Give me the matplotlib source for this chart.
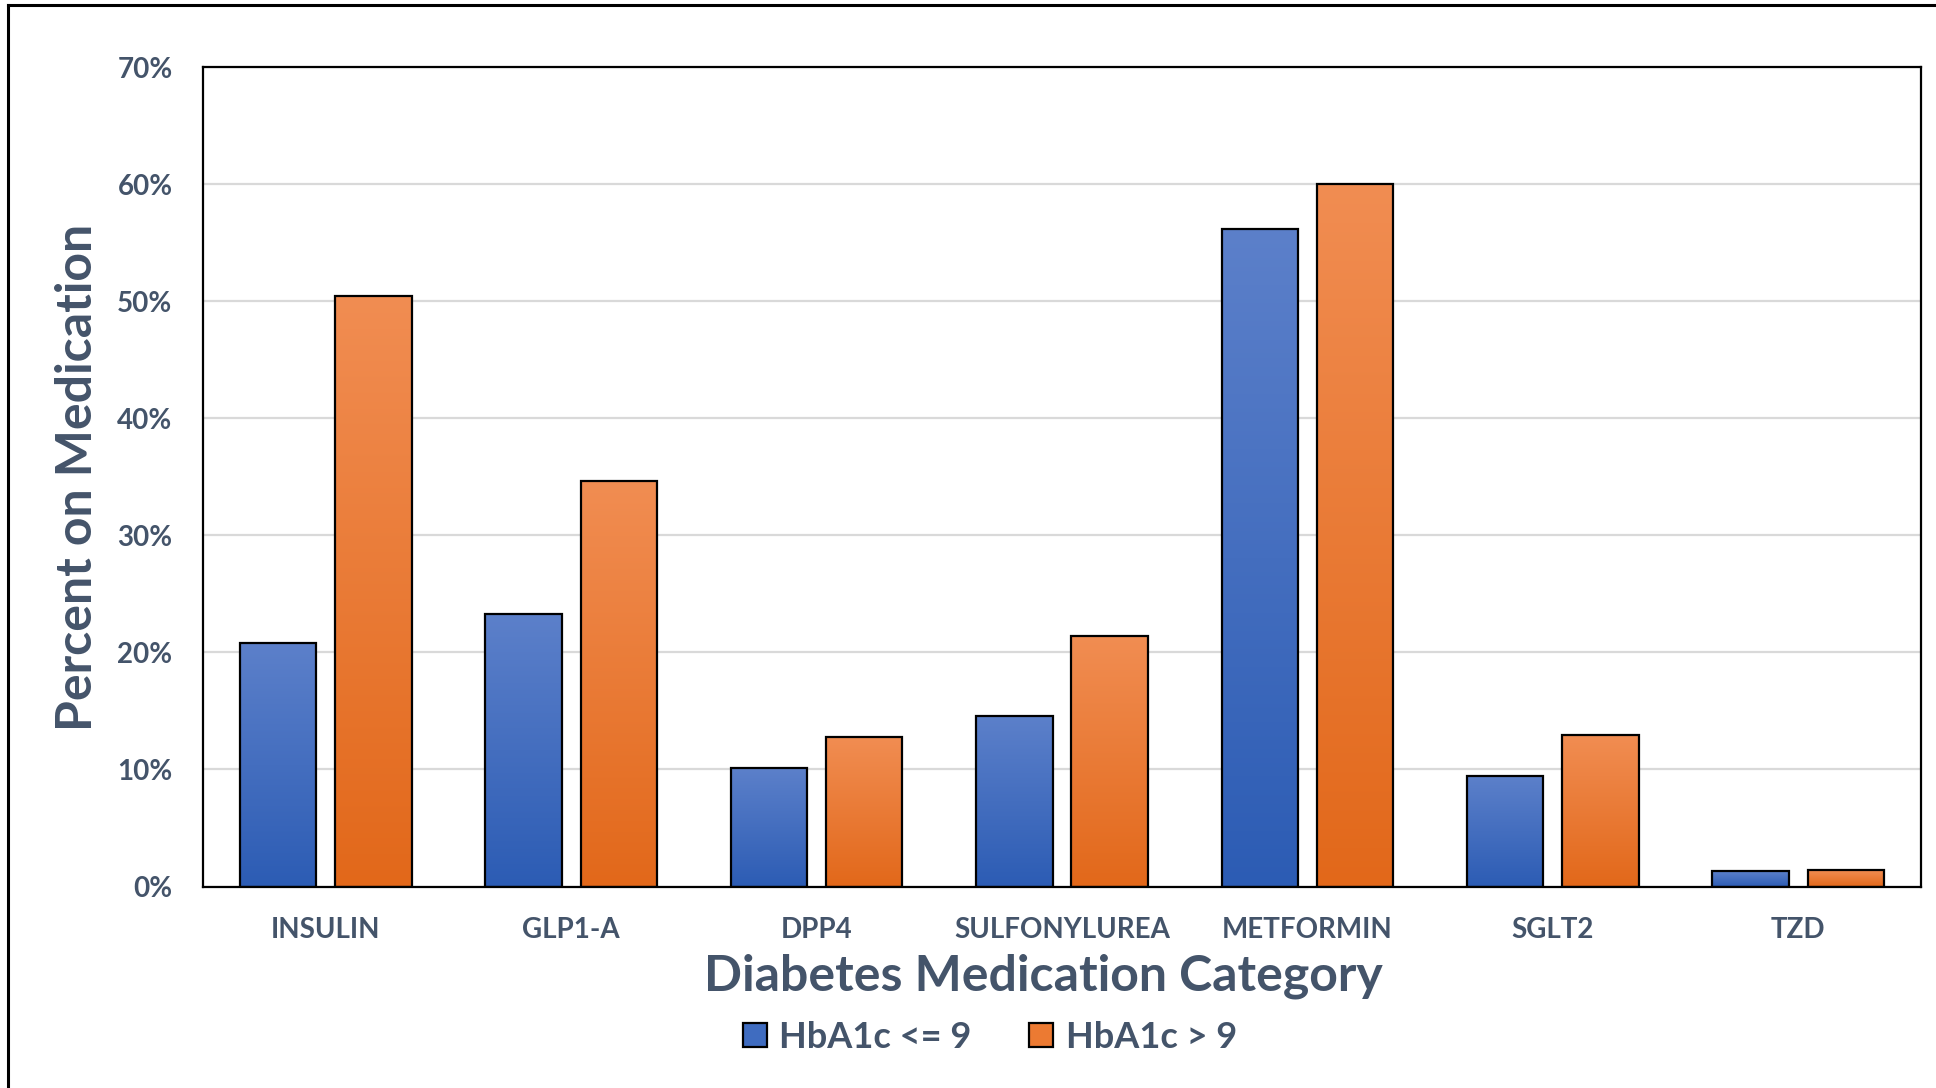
import numpy as np
import matplotlib.pyplot as plt
from matplotlib.patches import Patch, Rectangle
from matplotlib.lines import Line2D
from matplotlib.colors import to_rgb

categories = ['INSULIN', 'GLP1-A', 'DPP4', 'SULFONYLUREA', 'METFORMIN', 'SGLT2', 'TZD']
low_a1c = [20.8, 23.3, 10.1, 14.6, 56.2, 9.4, 1.3]    # HbA1c <= 9
high_a1c = [50.4, 34.6, 12.8, 21.4, 60.0, 12.9, 1.4]  # HbA1c > 9
series_names = ['HbA1c <= 9', 'HbA1c > 9']
y_ticks = [0, 10, 20, 30, 40, 50, 60, 70]

txt_col = '#44546A'
# gradient ends (top, bottom) for each series
blue_grad = ('#5C80CA', '#2C5CB4')
orange_grad = ('#F18D52', '#E2681A')

plt.rcParams['font.family'] = ['Lato', 'DejaVu Sans']
plt.rcParams['font.weight'] = 'bold'

fig = plt.figure(figsize=(19.36, 10.88), dpi=100)
ax = fig.add_axes([0.1049, 0.1852, 0.8873, 0.7532])

x = np.arange(len(categories))
w = 0.312
off = 0.194


def grad_bars(xs, vals, cols):
    top = np.array(to_rgb(cols[0]))
    bot = np.array(to_rgb(cols[1]))
    t = np.linspace(0, 1, 256)[:, None]
    img = (top * (1 - t) + bot * t)[:, None, :]
    for xi, v in zip(xs, vals):
        ax.imshow(img, extent=[xi - w / 2, xi + w / 2, 0, v], aspect='auto',
                  interpolation='bilinear', zorder=2)
        ax.add_patch(Rectangle((xi - w / 2, 0), w, v, facecolor='none',
                               edgecolor='black', lw=1.6, zorder=3))


grad_bars(x - off, low_a1c, blue_grad)
grad_bars(x + off, high_a1c, orange_grad)

ax.set_xlim(-0.5, len(categories) - 0.5)
ax.set_ylim(0, 70)
ax.set_yticks(y_ticks)
ax.set_yticklabels(['%d%%' % v for v in y_ticks])
ax.set_xticks(x)
ax.set_xticklabels(categories)
ax.tick_params(axis='both', length=0, labelcolor=txt_col)
ax.tick_params(axis='y', pad=22, labelsize=20)
ax.tick_params(axis='x', pad=22, labelsize=20)
ax.grid(axis='y', color='#D9D9D9', lw=1.6, zorder=0)
ax.set_axisbelow(True)
for s in ax.spines.values():
    s.set_linewidth(1.6)
    s.set_color('black')

fig.text(78 / 1936, 1 - 477 / 1088, 'Percent on Medication', rotation=90,
         ha='center', va='center', fontsize=36, color=txt_col, fontweight='bold')
fig.text(1043 / 1936, 1 - 976 / 1088, 'Diabetes Medication Category',
         ha='center', va='center', fontsize=36, color=txt_col, fontweight='bold')

handles = [Patch(facecolor='#3F6CC0', edgecolor='black', lw=1.6),
           Patch(facecolor='#EC7A32', edgecolor='black', lw=1.6)]
leg = fig.legend(handles, series_names, loc='center', ncol=2, frameon=False,
                 bbox_to_anchor=(990 / 1936, 1 - 1037 / 1088), fontsize=26,
                 handlelength=0.65, handleheight=0.65, handletextpad=0.35,
                 columnspacing=1.6)
for t in leg.get_texts():
    t.set_color(txt_col)

# chart area border
fig.add_artist(Line2D([8 / 1936, 8 / 1936], [0, 1 - 5 / 1088], color='black', lw=2.2))
fig.add_artist(Line2D([8 / 1936, 1], [1 - 5 / 1088, 1 - 5 / 1088], color='black', lw=2.2))

fig.savefig('out.png', dpi=100)
